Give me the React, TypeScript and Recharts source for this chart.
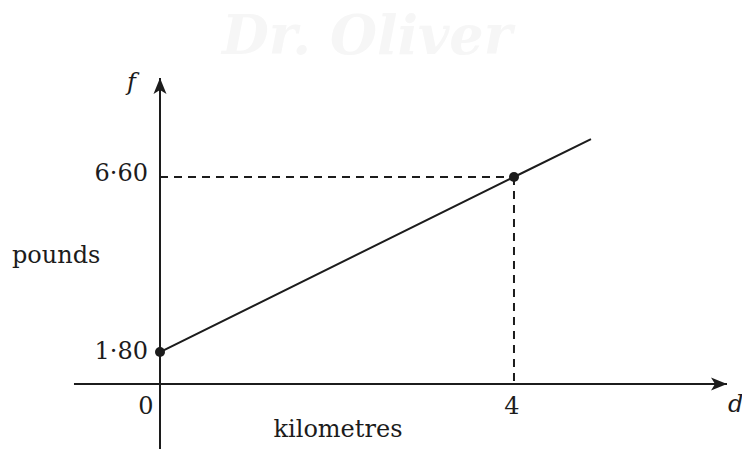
import React from 'react';
import { LineChart, Line, XAxis, YAxis, ReferenceLine, ReferenceDot } from 'recharts';

// taxi fare: distance d (km) against fare f (pounds)
const distances = [0, 4, 4.87];
const fares = [1.8, 6.6, 7.64];

// the two marked points
const markedDistances = [0, 4];
const markedFares = [1.8, 6.6];

const xTicks = [0, 4];
const yTicks = [1.8, 6.6];
const xName = 'd';
const yName = 'f';
const xTitle = 'kilometres';
const yTitle = 'pounds';

// plot window (axes drawn as a sketch, not from zero)
const X_DOMAIN: [number, number] = [0, 6.407];
const Y_DOMAIN: [number, number] = [0.922, 9.316];
const X_TAIL = -0.972; // d-axis runs a little left of the f-axis
const Y_TAIL = -0.861; // f-axis runs a little below the d-axis

const INK = '#1c1c1c';
const FONT = '"DejaVu Serif", serif';
const textStyle = { fontFamily: FONT, fontSize: 24, fill: INK };

const fmt = (v: number) => v.toFixed(2).replace('.', '·');

const data = distances.map((d, i) => ({ d, f: fares[i] }));

const YTick = ({ x, y, payload }: any) => (
  <text x={x} y={y + (payload.value < 3 ? 7 : 4)} textAnchor="end" style={textStyle}>
    {fmt(payload.value)}
  </text>
);

const XTick = ({ x, y, payload }: any) => (
  <text x={x + (payload.value === 0 ? -14 : -2)} y={y + 22} textAnchor="middle" style={textStyle}>
    {payload.value}
  </text>
);

const UpArrow = ({ cx, cy }: any) => (
  <path d={`M${cx},${cy} L${cx - 6.5},${cy + 16} L${cx},${cy + 12} L${cx + 6.5},${cy + 16} Z`} fill={INK} />
);

const RightArrow = ({ cx, cy }: any) => (
  <path d={`M${cx},${cy} L${cx - 16},${cy - 6.5} L${cx - 12},${cy} L${cx - 16},${cy + 6.5} Z`} fill={INK} />
);

const App: React.FC = () => {
  const axisLine = { stroke: INK, strokeWidth: 2 };

  return (
    <div style={{ position: 'absolute', left: 0, top: 0, width: 742, height: 449, background: '#fff' }}>
      {/* faint watermark */}
      <div
        style={{
          position: 'absolute',
          left: 222,
          top: 0,
          height: 70,
          fontFamily: FONT,
          fontStyle: 'italic',
          fontWeight: 'bold',
          fontSize: 54,
          lineHeight: '70px',
          color: '#f6f6f6',
          whiteSpace: 'nowrap',
        }}
      >
        Dr. Oliver
      </div>
      <div style={{ position: 'absolute', left: 0, top: 0 }}>
        <LineChart width={742} height={449} data={data} margin={{ top: 78, right: 15, bottom: 0, left: 0 }}>
          <XAxis
            dataKey="d"
            type="number"
            domain={X_DOMAIN}
            allowDataOverflow
            ticks={xTicks}
            tickLine={false}
            axisLine={axisLine}
            tick={<XTick />}
            height={65}
            label={{
              content: ({ viewBox }: any) => (
                <text x={viewBox.x + 178} y={viewBox.y + 53} textAnchor="middle" style={textStyle}>
                  {xTitle}
                </text>
              ),
            }}
          />
          <YAxis
            type="number"
            domain={Y_DOMAIN}
            allowDataOverflow
            ticks={yTicks}
            tickLine={false}
            tickMargin={6}
            axisLine={axisLine}
            tick={<YTick />}
            width={160}
            label={{
              content: ({ viewBox }: any) => (
                <text x={viewBox.x + 12} y={viewBox.y + 185} style={textStyle}>
                  {yTitle}
                </text>
              ),
            }}
          />

          {/* axis tails beyond the origin */}
          <ReferenceLine
            segment={[{ x: X_TAIL, y: Y_DOMAIN[0] }, { x: 0, y: Y_DOMAIN[0] }]}
            stroke={INK}
            strokeWidth={2}
            ifOverflow="visible"
          />
          <ReferenceLine
            segment={[{ x: 0, y: Y_DOMAIN[0] }, { x: 0, y: Y_TAIL }]}
            stroke={INK}
            strokeWidth={2}
            ifOverflow="visible"
          />

          {/* dashed guides to the marked point */}
          {markedDistances.map((d, i) =>
            d > 0 ? (
              <ReferenceLine
                key={`h${i}`}
                segment={[{ x: 0, y: markedFares[i] }, { x: d, y: markedFares[i] }]}
                stroke={INK}
                strokeWidth={2}
                strokeDasharray="8 6"
              />
            ) : null
          )}
          {markedDistances.map((d, i) =>
            d > 0 ? (
              <ReferenceLine
                key={`v${i}`}
                segment={[{ x: d, y: markedFares[i] }, { x: d, y: Y_DOMAIN[0] }]}
                stroke={INK}
                strokeWidth={2}
                strokeDasharray="8 6"
              />
            ) : null
          )}

          <Line
            dataKey="f"
            type="linear"
            stroke={INK}
            strokeWidth={2}
            dot={false}
            activeDot={false}
            isAnimationActive={false}
          />

          {markedDistances.map((d, i) => (
            <ReferenceDot key={`p${i}`} x={d} y={markedFares[i]} r={5} fill={INK} stroke="none" ifOverflow="visible" />
          ))}

          {/* arrow heads and axis names */}
          <ReferenceDot
            x={0}
            y={Y_DOMAIN[1]}
            r={0}
            ifOverflow="visible"
            shape={<UpArrow />}
            label={{
              content: ({ viewBox }: any) => (
                <text x={viewBox.x - 24} y={viewBox.y + 12} textAnchor="end" style={{ ...textStyle, fontStyle: 'italic' }}>
                  {yName}
                </text>
              ),
            }}
          />
          <ReferenceDot
            x={X_DOMAIN[1]}
            y={Y_DOMAIN[0]}
            r={0}
            ifOverflow="visible"
            shape={<RightArrow />}
            label={{
              content: ({ viewBox }: any) => (
                <text x={viewBox.x + 1} y={viewBox.y + 28} style={{ ...textStyle, fontStyle: 'italic' }}>
                  {xName}
                </text>
              ),
            }}
          />
        </LineChart>
      </div>
    </div>
  );
};

export default App;
